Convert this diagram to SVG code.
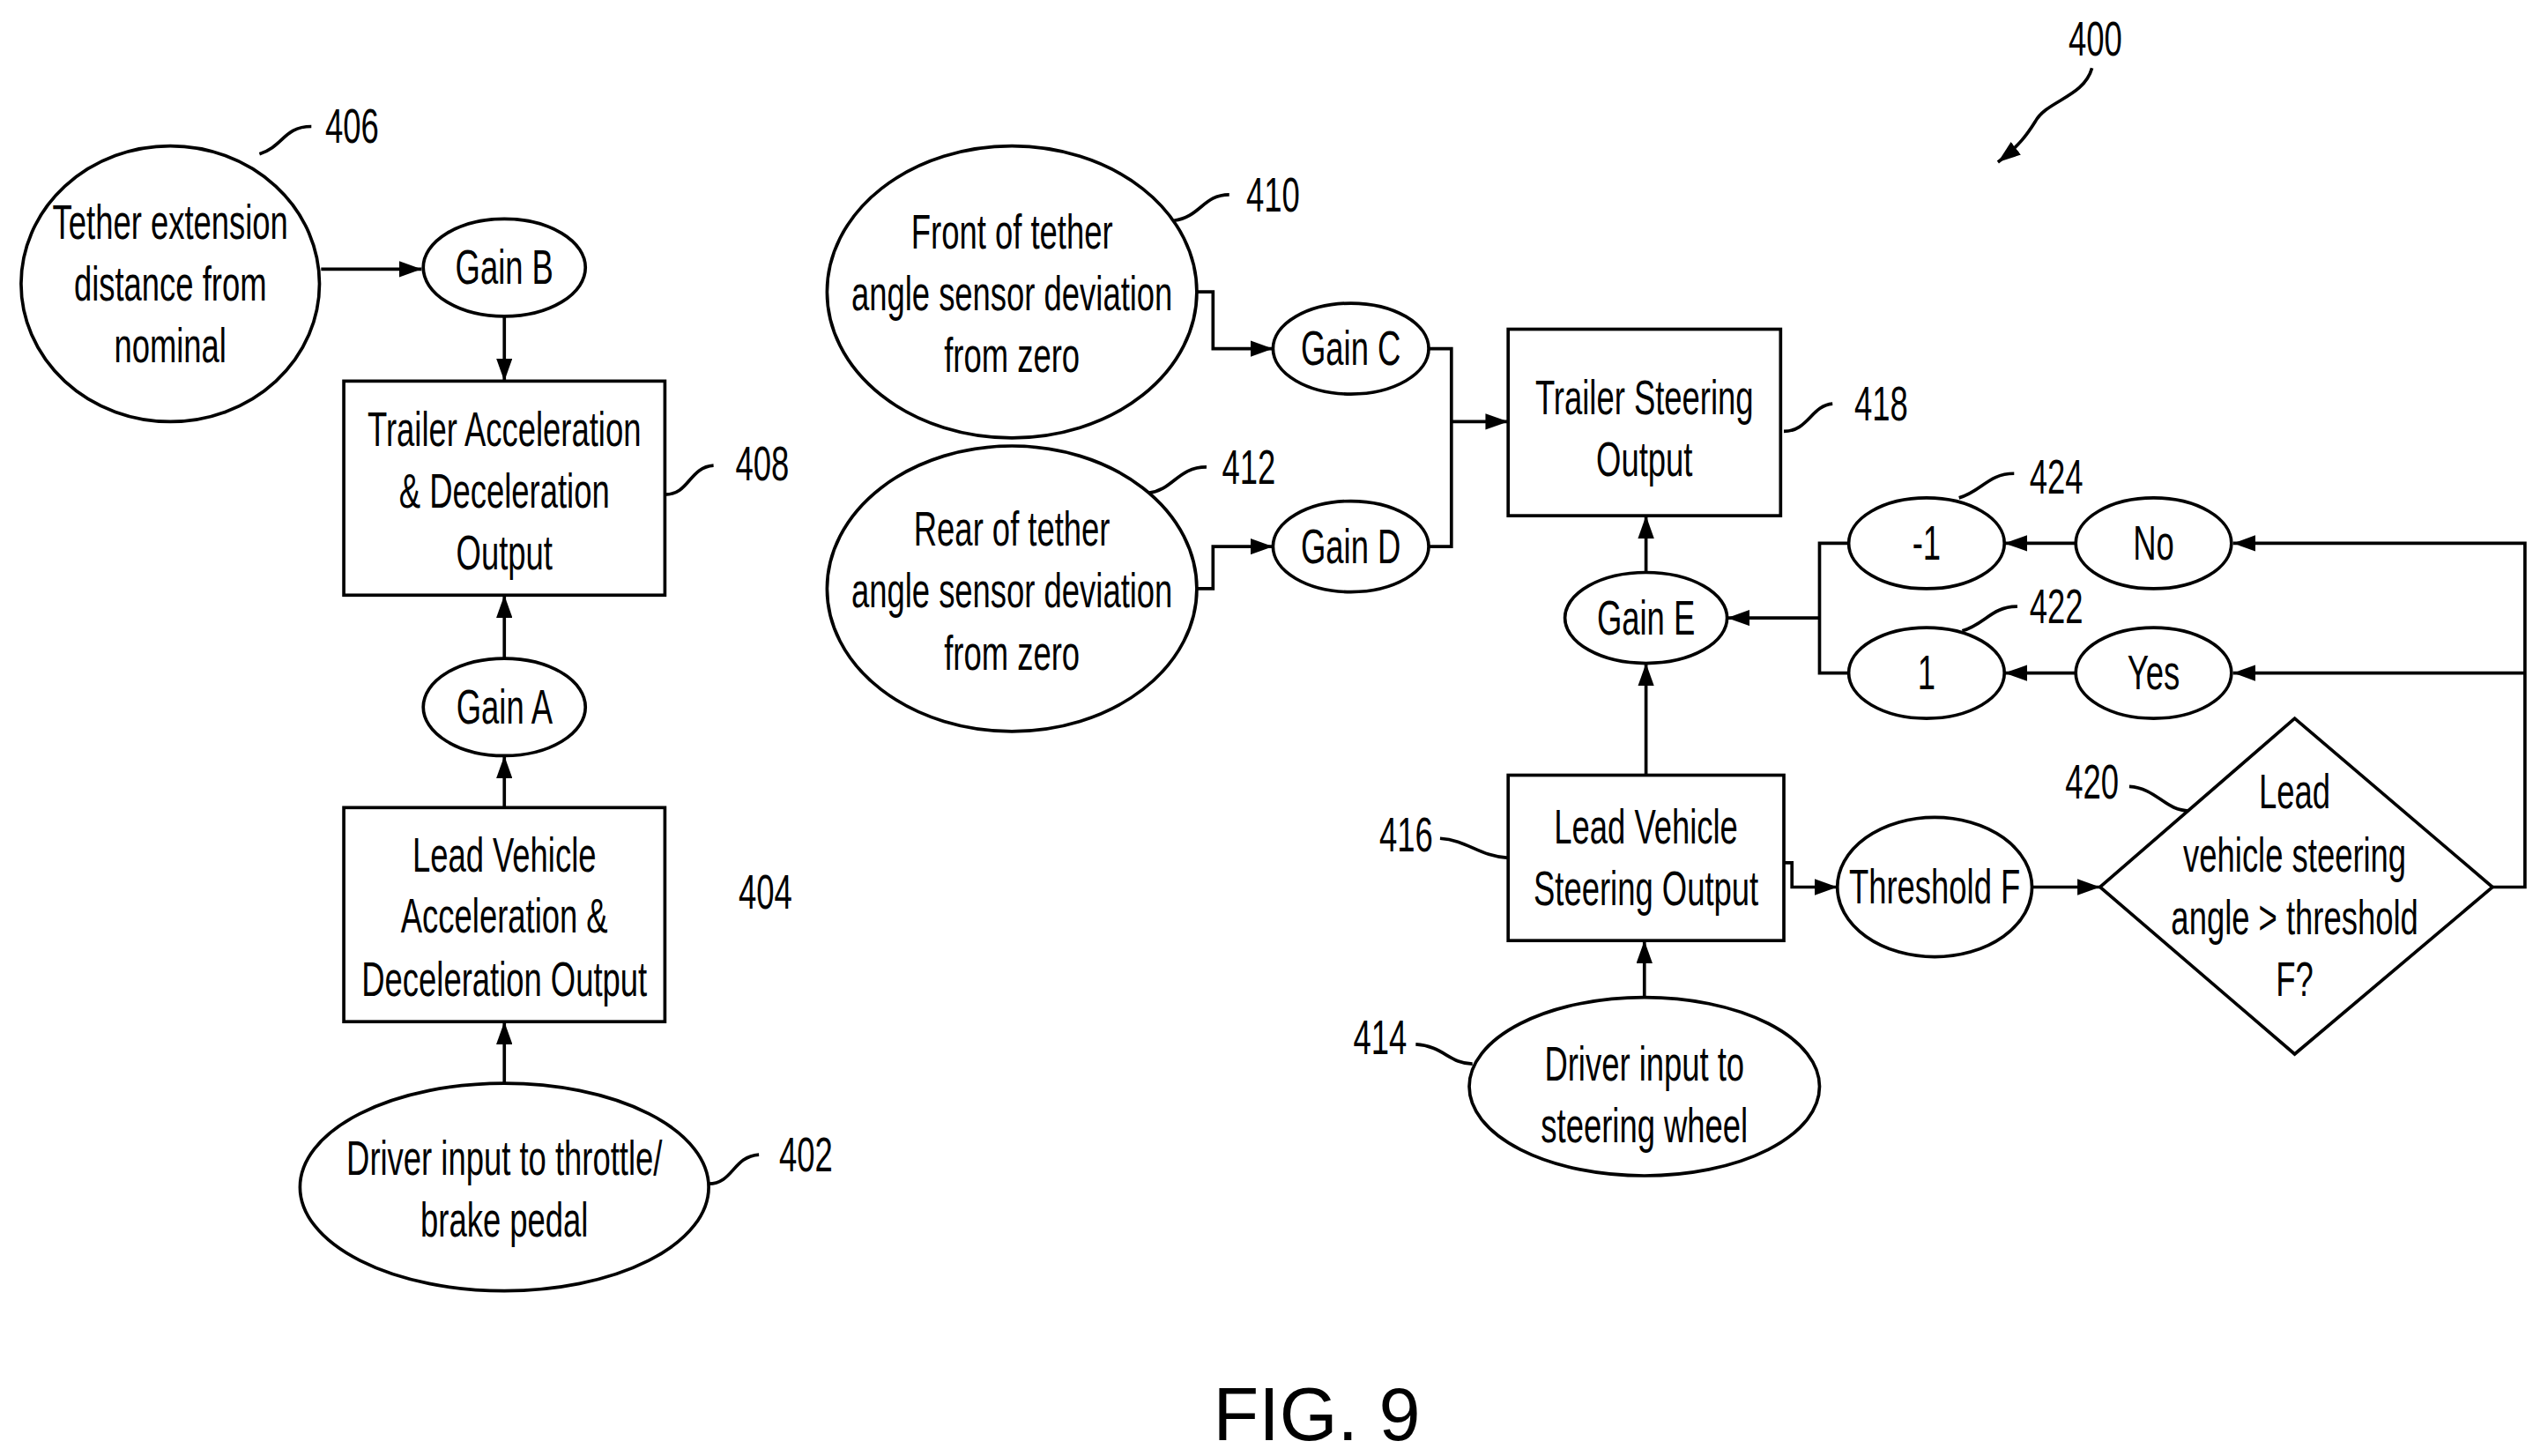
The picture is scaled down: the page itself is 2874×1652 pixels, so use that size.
<svg xmlns="http://www.w3.org/2000/svg" width="2874" height="1652" viewBox="0 0 2874 1652">
<defs>
<marker id="ah" viewBox="0 0 14 10" refX="14" refY="5" markerWidth="14" markerHeight="10" markerUnits="userSpaceOnUse" orient="auto"><path d="M0,0 L14,5 L0,10 z" fill="#000"/></marker>
</defs>
<style>
.s{fill:#fff;stroke:#000;stroke-width:2}
.c{fill:none;stroke:#000;stroke-width:2}
.a{fill:none;stroke:#000;stroke-width:2;marker-end:url(#ah)}
text{font-family:"Liberation Sans",Arial,sans-serif;font-size:30px;text-anchor:middle;dominant-baseline:central;fill:#000}
.t{transform-box:fill-box;transform-origin:center;transform:scaleX(0.66)}
.f{font-size:46px}
</style>
<rect width="2874" height="1652" fill="#fff"/>
<g transform="scale(1.84)">
<g id="connectors">
<path class="a" d="M198,166 H260"/>
<path class="a" d="M311,195 V235"/>
<path class="a" d="M311,406 V367"/>
<path class="a" d="M311,498 V466"/>
<path class="a" d="M311,668 V630"/>
<path class="a" d="M738,180 H748 V215 H785"/>
<path class="a" d="M738,363 H748 V337 H785"/>
<path class="c" d="M881,215 H895 V337 H881"/>
<path class="a" d="M895,260 H930"/>
<path class="a" d="M1015,353 V318"/>
<path class="a" d="M1015,478 V409"/>
<path class="a" d="M1014,615 V580"/>
<path class="a" d="M1100,532 H1105 V547 H1133"/>
<path class="a" d="M1253,547 H1295"/>
<path class="a" d="M1537,547 H1557 V335 H1377"/>
<path class="a" d="M1557,415 H1377"/>
<path class="a" d="M1280,335 H1236"/>
<path class="a" d="M1280,415 H1236"/>
<path class="c" d="M1140,335 H1122 V415 H1140"/>
<path class="a" d="M1122,381 H1065"/>
<path class="a" d="M1290,42 C1285,60 1262,62 1255,75 C1250,83 1245,90 1232,100"/>
</g>
<g id="leaders">
<path class="c" d="M160,95 C175,90 175,78 192,78"/>
<path class="c" d="M410,305 C425,305 425,288 440,287"/>
<path class="c" d="M437,730 C452,730 452,713 468,712"/>
<path class="c" d="M724,136 C740,134 742,120 758,120"/>
<path class="c" d="M708,304 C724,302 726,288 744,288"/>
<path class="c" d="M1100,266 C1115,266 1117,250 1130,249"/>
<path class="c" d="M1208,307 C1222,303 1226,292 1242,292"/>
<path class="c" d="M1210,389 C1224,385 1228,374 1244,374"/>
<path class="c" d="M888,517 C905,518 912,528 930,529"/>
<path class="c" d="M873,644 C890,645 894,656 908,656"/>
<path class="c" d="M1313,485 C1330,486 1335,500 1350,500"/>
</g>
<g id="labels">
<text class="t" x="217" y="78">406</text>
<text class="t" x="470" y="286">408</text>
<text class="t" x="497" y="712">402</text>
<text class="t" x="472" y="550">404</text>
<text class="t" x="785" y="120">410</text>
<text class="t" x="770" y="288">412</text>
<text class="t" x="1160" y="249">418</text>
<text class="t" x="1268" y="294">424</text>
<text class="t" x="1268" y="374">422</text>
<text class="t" x="867" y="515">416</text>
<text class="t" x="851" y="640">414</text>
<text class="t" x="1290" y="482">420</text>
<text class="t" x="1292" y="24">400</text>
</g>
<g id="n406"><ellipse class="s" cx="105" cy="175" rx="92" ry="85"/><text class="t" x="105" y="137">Tether extension</text><text class="t" x="105" y="175">distance from</text><text class="t" x="105" y="213">nominal</text></g>
<g id="gainB"><ellipse class="s" cx="311" cy="165" rx="50" ry="30"/><text class="t" x="311" y="165">Gain B</text></g>
<g id="n408"><rect class="s" x="212" y="235" width="198" height="132"/><text class="t" x="311" y="265">Trailer Acceleration</text><text class="t" x="311" y="303">&amp; Deceleration</text><text class="t" x="311" y="341">Output</text></g>
<g id="gainA"><ellipse class="s" cx="311" cy="436" rx="50" ry="30"/><text class="t" x="311" y="436">Gain A</text></g>
<g id="n404"><rect class="s" x="212" y="498" width="198" height="132"/><text class="t" x="311" y="527">Lead Vehicle</text><text class="t" x="311" y="565">Acceleration &amp;</text><text class="t" x="311" y="604">Deceleration Output</text></g>
<g id="n402"><ellipse class="s" cx="311" cy="732" rx="126" ry="64"/><text class="t" x="311" y="714">Driver input to throttle/</text><text class="t" x="311" y="752">brake pedal</text></g>
<g id="n410"><ellipse class="s" cx="624" cy="180" rx="114" ry="90"/><text class="t" x="624" y="143">Front of tether</text><text class="t" x="624" y="181">angle sensor deviation</text><text class="t" x="624" y="219">from zero</text></g>
<g id="n412"><ellipse class="s" cx="624" cy="363" rx="114" ry="88"/><text class="t" x="624" y="326">Rear of tether</text><text class="t" x="624" y="364">angle sensor deviation</text><text class="t" x="624" y="403">from zero</text></g>
<g id="gainC"><ellipse class="s" cx="833" cy="215" rx="48" ry="28"/><text class="t" x="833" y="215">Gain C</text></g>
<g id="gainD"><ellipse class="s" cx="833" cy="337" rx="48" ry="28"/><text class="t" x="833" y="337">Gain D</text></g>
<g id="n418"><rect class="s" x="930" y="203" width="168" height="115"/><text class="t" x="1014" y="245">Trailer Steering</text><text class="t" x="1014" y="283">Output</text></g>
<g id="gainE"><ellipse class="s" cx="1015" cy="381" rx="50" ry="28"/><text class="t" x="1015" y="381">Gain E</text></g>
<g id="n424"><ellipse class="s" cx="1188" cy="335" rx="48" ry="28"/><text class="t" x="1188" y="335">-1</text></g>
<g id="n422"><ellipse class="s" cx="1188" cy="415" rx="48" ry="28"/><text class="t" x="1188" y="415">1</text></g>
<g id="no"><ellipse class="s" cx="1328" cy="335" rx="48" ry="28"/><text class="t" x="1328" y="335">No</text></g>
<g id="yes"><ellipse class="s" cx="1328" cy="415" rx="48" ry="28"/><text class="t" x="1328" y="415">Yes</text></g>
<g id="n416"><rect class="s" x="930" y="478" width="170" height="102"/><text class="t" x="1015" y="510">Lead Vehicle</text><text class="t" x="1015" y="548">Steering Output</text></g>
<g id="n414"><ellipse class="s" cx="1014" cy="670" rx="108" ry="55"/><text class="t" x="1014" y="656">Driver input to</text><text class="t" x="1014" y="694">steering wheel</text></g>
<g id="thF"><ellipse class="s" cx="1193" cy="547" rx="60" ry="43"/><text class="t" x="1193" y="547">Threshold F</text></g>
<g id="n420"><path class="s" d="M1295,547 L1415,443 L1537,547 L1415,650 z"/><text class="t" x="1415" y="488">Lead</text><text class="t" x="1415" y="527">vehicle steering</text><text class="t" x="1415" y="566">angle &gt; threshold</text><text class="t" x="1415" y="604">F?</text></g>
<text class="f" x="812" y="872">FIG. 9</text>
</g>
</svg>
